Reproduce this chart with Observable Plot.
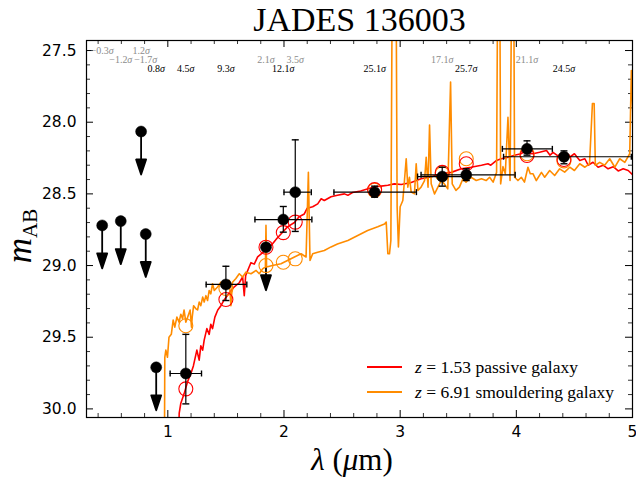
<!DOCTYPE html>
<html>
<head>
<meta charset="utf-8">
<script src="https://cdn.jsdelivr.net/npm/d3@7"></script>
<script src="https://cdn.jsdelivr.net/npm/@observablehq/plot@0.6"></script>
<style>
  body { margin: 0; background: #fff; }
  #wrap { position: relative; width: 636px; height: 478px; }
</style>
</head>
<body>
<div id="wrap"></div>
<script>
// ---------------- data ----------------
const title = "JADES 136003";
const filters  = ["F435W","F606W","F775W","F814W","F090W","F115W","F150W","F182M","F200W","F210M","F277W","F335M","F356W","F410M","F444W"];
const bandType = ["HST","HST","HST","HST","wide","wide","wide","medium","wide","medium","wide","medium","wide","medium","wide"];
const lam      = [0.435, 0.595, 0.77, 0.81, 0.90, 1.155, 1.50, 1.845, 1.994, 2.097, 2.78, 3.362, 3.569, 4.092, 4.41];
const sigma    = [-0.3, -1.2, 1.2, -1.7, 0.8, 4.5, 9.3, 2.1, 12.1, 3.5, 25.1, 17.1, 25.7, 21.1, 24.5];
const mag      = [28.72, 28.69, 28.065, 28.78, 29.71, 29.753, 29.132, 28.872, 28.679, 28.488, 28.488, 28.379, 28.367, 28.186, 28.241];
const isUpperLimit = [true,true,true,true,true,false,false,true,false,false,false,false,false,false,false];
const magErrMinus = [null,null,null,null,null, 0.273, 0.127, null, 0.091, 0.365, 0.042, 0.065, 0.042, 0.056, 0.041];
const magErrPlus  = [null,null,null,null,null, 0.212, 0.112, null, 0.088, 0.274, 0.035, 0.067, 0.040, 0.044, 0.049];
const lamLo = [null,null,null,null,null, 1.02, 1.33, null, 1.75, 2.00, 2.43, 3.15, 3.18, 3.88, 3.89];
const lamHi = [null,null,null,null,null, 1.29, 1.68, null, 2.24, 2.235, 3.14, 3.55, 3.99, 4.31, 4.99];
const photPassive   = [null,null,null,null,null, 29.86, 29.237, 28.872, 28.77, 28.697, 28.47, 28.35, 28.29, 28.232, 28.26];
const photSmoulder  = [null,null,null,null,null, 29.42, 29.16, 29.0, 28.977, 28.953, 28.475, 28.36, 28.255, 28.22, 28.27];

const seriesRedshift = ["1.53", "6.91"];
const seriesName = ["passive galaxy", "smouldering galaxy"];

// z=1.53 passive galaxy model spectrum
const passiveLam = [1.09,1.098,1.112,1.14,1.17,1.198,1.22,1.25,1.27,1.284,1.30,1.313,1.336,1.356,1.37,1.385,1.405,1.43,1.457,1.485,1.53,1.57,1.615,1.644,1.658,1.67,1.70,1.716,1.744,1.773,1.816,1.86,1.90,1.94,1.974,2.03,2.09,2.13,2.175,2.20,2.247,2.29,2.32,2.347,2.405,2.46,2.52,2.55,2.59,2.66,2.78,2.836,2.894,2.95,3.01,3.095,3.18,3.27,3.353,3.44,3.526,3.61,3.70,3.756,3.78,3.83,3.87,3.93,3.985,4.04,4.058,4.086,4.144,4.2,4.26,4.29,4.316,4.373,4.46,4.50,4.546,4.59,4.618,4.66,4.704,4.747,4.79,4.834,4.877,4.92,4.963,5.006];
const passiveMag = [30.3,30.03,29.96,29.895,29.81,29.755,29.70,29.59,29.66,29.56,29.59,29.52,29.44,29.48,29.41,29.44,29.36,29.31,29.28,29.24,29.19,29.15,29.12,29.08,29.21,29.07,29.01,28.98,28.99,28.94,28.91,28.88,28.85,28.81,28.78,28.73,28.70,28.66,28.64,28.60,28.59,28.57,28.534,28.546,28.52,28.51,28.50,28.51,28.49,28.48,28.45,28.446,28.44,28.43,28.435,28.42,28.395,28.38,28.36,28.35,28.325,28.314,28.30,28.29,28.30,28.267,28.255,28.244,28.23,28.22,28.21,28.216,28.22,28.21,28.197,28.23,28.21,28.244,28.244,28.22,28.267,28.255,28.30,28.279,28.314,28.30,28.325,28.31,28.34,28.325,28.337,28.37];

// z=6.91 smouldering galaxy model spectrum
const smoulderLam = [0.968,0.972,0.974,0.983,0.997,1.01,1.03,1.046,1.06,1.078,1.097,1.112,1.127,1.14,1.155,1.175,1.192,1.204,1.21,1.222,1.24,1.256,1.27,1.284,1.30,1.313,1.328,1.342,1.356,1.37,1.385,1.40,1.428,1.457,1.485,1.53,1.543,1.557,1.586,1.615,1.644,1.672,1.716,1.76,1.787,1.816,1.84,1.845,1.85,1.90,1.974,2.03,2.09,2.147,2.19,2.21,2.224,2.247,2.29,2.347,2.405,2.46,2.55,2.635,2.72,2.807,2.865,2.88,2.894,2.908,2.92,2.935,2.962,2.974,2.985,3.0,3.023,3.037,3.052,3.066,3.08,3.095,3.123,3.138,3.153,3.18,3.21,3.224,3.24,3.253,3.267,3.296,3.325,3.353,3.38,3.41,3.434,3.448,3.48,3.51,3.54,3.567,3.61,3.655,3.70,3.74,3.77,3.80,3.83,3.843,3.855,3.865,3.885,3.905,3.928,3.946,3.965,3.975,3.985,4.014,4.043,4.07,4.1,4.12,4.144,4.172,4.216,4.244,4.287,4.33,4.373,4.416,4.46,4.50,4.546,4.59,4.63,4.655,4.67,4.68,4.718,4.76,4.804,4.848,4.89,4.934,4.976,4.99,5.006];
const smoulderMag = [30.3,30.05,29.64,29.59,29.64,29.50,29.48,29.38,29.43,29.36,29.395,29.34,29.37,29.31,29.395,29.35,29.31,29.43,29.36,29.28,29.30,29.31,29.255,29.28,29.22,29.255,29.21,29.244,29.174,29.197,29.127,29.174,29.15,29.116,29.14,29.104,29.28,29.116,29.09,29.057,29.08,29.046,29.057,29.034,29.057,29.023,29.01,28.72,29.01,29.0,28.988,28.965,28.94,28.918,28.94,28.349,28.965,28.918,28.907,28.895,28.87,28.85,28.825,28.79,28.755,28.73,28.71,28.697,28.918,28.918,28.825,26.5,26.5,28.593,28.87,28.59,28.546,28.407,28.255,28.453,28.384,28.488,28.50,28.29,28.476,28.453,28.407,28.244,28.453,28.02,28.43,28.50,28.453,28.407,28.43,28.465,27.72,28.43,28.476,28.453,28.395,28.418,28.384,28.407,28.395,28.407,28.384,28.418,28.35,26.5,26.5,28.43,28.31,28.36,27.965,28.407,26.5,26.5,28.384,28.407,28.384,28.418,28.314,28.36,28.36,28.407,28.35,28.384,28.337,28.372,28.325,28.348,28.314,28.337,28.29,28.314,28.29,27.87,27.87,28.30,28.28,28.30,28.255,28.314,28.255,28.28,28.22,27.64,28.01];

// axis ticks
const xMajor = [1, 2, 3, 4, 5];
const xMinor = d3.range(4, 50, 2).map(d => d / 10).filter(d => d % 1 !== 0);
const yMajor = [27.5, 28.0, 28.5, 29.0, 29.5, 30.0];
const yMinor = d3.range(275, 301, 1).map(d => d / 10).filter(d => Math.round(d * 10) % 5 !== 0);

// ---------------- build tables ----------------
let hstCount = 0;
const obs = filters.map((f, i) => {
  const type = bandType[i];
  let row;
  if (type === "HST") row = (hstCount++ % 2 === 0) ? 1 : 2;
  else row = type === "medium" ? 2 : 3;
  return {
    filter: f, type, row, lam: lam[i], mag: mag[i], ul: isUpperLimit[i],
    y1: magErrMinus[i] == null ? null : mag[i] - magErrMinus[i],
    y2: magErrPlus[i] == null ? null : mag[i] + magErrPlus[i],
    x1: lamLo[i], x2: lamHi[i],
    pas: photPassive[i], smo: photSmoulder[i],
    label: (sigma[i] < 0 ? "\u2212" : "") + Math.abs(sigma[i]).toFixed(1) + "σ"
  };
});
const det = obs.filter(d => !d.ul);
const ul = obs.filter(d => d.ul);
const passive = passiveLam.map((l, i) => ({lam: l, mag: passiveMag[i]}));
const smoulder = smoulderLam.map((l, i) => ({lam: l, mag: smoulderMag[i]}));

// ---------------- layout ----------------
const W = 636, H = 478, mL = 86, mR = 4, mT = 40, mB = 61;
const fW = W - mL - mR, fH = H - mT - mB;
const ORANGE = "#ff8c00";

const arrowShape = {
  draw(ctx, l, r) {
    const hh = 15, hw = 5;
    ctx.moveTo(0, 0);
    ctx.lineTo(0, -l + hh);
    ctx.moveTo(-hw, -l + hh);
    ctx.lineTo(0, -l);
    ctx.lineTo(hw, -l + hh);
    ctx.closePath();
  }
};
const hCap = {draw(ctx, size) { const w = Math.sqrt(size / Math.PI); ctx.moveTo(-w, 0); ctx.lineTo(w, 0); }};
const vCap = {draw(ctx, size) { const w = Math.sqrt(size / Math.PI); ctx.moveTo(0, -w); ctx.lineTo(0, w); }};

const serif = "'Liberation Serif', 'DejaVu Serif', serif";
const sans = "'DejaVu Sans', sans-serif";
const TICK_FONT = 15.5;

const chart = Plot.plot({
  width: W, height: H,
  marginLeft: mL, marginRight: mR, marginTop: mT, marginBottom: mB,
  style: {background: "white", color: "black", fontFamily: sans, fontSize: TICK_FONT + "px", overflow: "visible"},
  x: {domain: [0.3, 5.0]},
  y: {domain: [30.06, 27.43]},
  marks: [
    // inward ticks on all four sides
    Plot.ruleX(xMajor, {insetTop: fH - 7, stroke: "black", strokeWidth: 1}),
    Plot.ruleX(xMajor, {insetBottom: fH - 7, stroke: "black", strokeWidth: 1}),
    Plot.ruleX(xMinor, {insetTop: fH - 4, stroke: "black", strokeWidth: 0.8}),
    Plot.ruleX(xMinor, {insetBottom: fH - 4, stroke: "black", strokeWidth: 0.8}),
    Plot.ruleY(yMajor, {insetRight: fW - 7, stroke: "black", strokeWidth: 1}),
    Plot.ruleY(yMajor, {insetLeft: fW - 7, stroke: "black", strokeWidth: 1}),
    Plot.ruleY(yMinor, {insetRight: fW - 4, stroke: "black", strokeWidth: 0.8}),
    Plot.ruleY(yMinor, {insetLeft: fW - 4, stroke: "black", strokeWidth: 0.8}),

    // upper limits (arrows)
    Plot.vector(ul, {x: "lam", y: "mag", rotate: 180, length: 43, anchor: "start", shape: arrowShape,
      stroke: "black", fill: "black", strokeWidth: 1.8}),

    // model spectra
    Plot.line(passive, {x: "lam", y: "mag", stroke: "red", strokeWidth: 1.6, clip: true}),
    Plot.line(smoulder, {x: "lam", y: "mag", stroke: ORANGE, strokeWidth: 1.6, clip: true}),

    // model photometry
    Plot.dot(obs.filter(d => d.smo != null), {x: "lam", y: "smo", r: 7, stroke: ORANGE, fill: "none", strokeWidth: 1.1}),
    Plot.dot(obs.filter(d => d.pas != null), {x: "lam", y: "pas", r: 7, stroke: "red", fill: "none", strokeWidth: 1.1}),

    // error bars
    Plot.ruleY(det, {y: "mag", x1: "x1", x2: "x2", stroke: "black", strokeWidth: 1.2}),
    Plot.dot(det, {x: "x1", y: "mag", r: 3, symbol: vCap, stroke: "black", fill: "none", strokeWidth: 1.4}),
    Plot.dot(det, {x: "x2", y: "mag", r: 3, symbol: vCap, stroke: "black", fill: "none", strokeWidth: 1.4}),
    Plot.ruleX(det, {x: "lam", y1: "y1", y2: "y2", stroke: "black", strokeWidth: 1.2}),
    Plot.dot(det, {x: "lam", y: "y1", r: 3.5, symbol: hCap, stroke: "black", fill: "none", strokeWidth: 1.4}),
    Plot.dot(det, {x: "lam", y: "y2", r: 3.5, symbol: hCap, stroke: "black", fill: "none", strokeWidth: 1.4}),

    // observed photometry
    Plot.dot(obs, {x: "lam", y: "mag", r: 5.5, fill: "black", stroke: "black", strokeWidth: 0.5}),

    // significance labels
    Plot.text(obs.filter(d => d.row === 1), {x: "lam", text: "label", frameAnchor: "top", lineAnchor: "middle", dy: 10,
      fill: "#8c8c8c", fontSize: 10, fontFamily: serif}),
    Plot.text(obs.filter(d => d.row === 2), {x: "lam", text: "label", frameAnchor: "top", lineAnchor: "middle", dy: 19,
      fill: "#8c8c8c", fontSize: 10, fontFamily: serif}),
    Plot.text(obs.filter(d => d.row === 3), {x: "lam", text: "label", frameAnchor: "top", lineAnchor: "middle", dy: 28,
      fill: "black", fontSize: 10, fontFamily: serif}),

    // title
    Plot.text([title], {text: d => d, frameAnchor: "top", lineAnchor: "middle", dy: -20, fontSize: 34, fontFamily: serif, fill: "black"}),

    Plot.frame({stroke: "black", strokeWidth: 1.2}),

    Plot.axisX(xMajor, {anchor: "bottom", tickSize: 0, tickPadding: 8, label: null, tickFormat: d => String(d), fontSize: TICK_FONT, fontFamily: sans}),
    Plot.axisY(yMajor, {anchor: "left", tickSize: 0, tickPadding: 10, label: null, tickFormat: d3.format(".1f"), fontSize: TICK_FONT, fontFamily: sans})
  ]
});

document.getElementById("wrap").appendChild(chart);

// ---------------- text post-processing ----------------
const svg = d3.select(chart);

// tick label font
svg.selectAll('g[aria-label="x-axis tick label"], g[aria-label="y-axis tick label"]')
  .attr("font-size", TICK_FONT)
  .style("font-size", TICK_FONT + "px")
  .style("font-family", sans);
svg.selectAll('g[aria-label="x-axis tick label"] text, g[aria-label="y-axis tick label"] text')
  .style("font-size", TICK_FONT + "px");

// italic sigma in the significance labels
svg.selectAll("text").each(function() {
  const t = this.textContent;
  if (t.endsWith("σ") && this.children.length === 0) {
    const el = d3.select(this);
    el.text(null);
    el.append("tspan").text(t.slice(0, -1));
    el.append("tspan").attr("font-style", "italic").text("σ");
  }
});

// y axis label m_AB
const yl = svg.append("text")
  .attr("transform", "translate(31,236) rotate(-90)")
  .attr("text-anchor", "middle")
  .attr("font-family", serif)
  .attr("fill", "black");
yl.append("tspan").attr("font-style", "italic").attr("font-size", 35).text("m");
yl.append("tspan").attr("font-size", 21).attr("dy", 6).text("AB");

// x axis label λ (μm)
const xl = svg.append("text")
  .attr("x", 352).attr("y", 470)
  .attr("text-anchor", "middle")
  .attr("font-family", serif)
  .attr("font-size", 31)
  .attr("fill", "black");
xl.append("tspan").attr("font-style", "italic").text("λ");
xl.append("tspan").text(" (");
xl.append("tspan").attr("font-style", "italic").text("μ");
xl.append("tspan").text("m)");

// legend
const legColors = ["red", ORANGE];
const legY = [367, 392];
seriesName.forEach((name, i) => {
  svg.append("line")
    .attr("x1", 367).attr("x2", 402)
    .attr("y1", legY[i]).attr("y2", legY[i])
    .attr("stroke", legColors[i]).attr("stroke-width", 1.8);
  const t = svg.append("text")
    .attr("x", 415).attr("y", legY[i] + 5.5)
    .attr("text-anchor", "start")
    .attr("font-family", serif).attr("font-size", 17.5).attr("fill", "black");
  t.append("tspan").attr("font-style", "italic").text("z");
  t.append("tspan").text(" = " + seriesRedshift[i] + " " + name);
});
</script>
</body>
</html>
